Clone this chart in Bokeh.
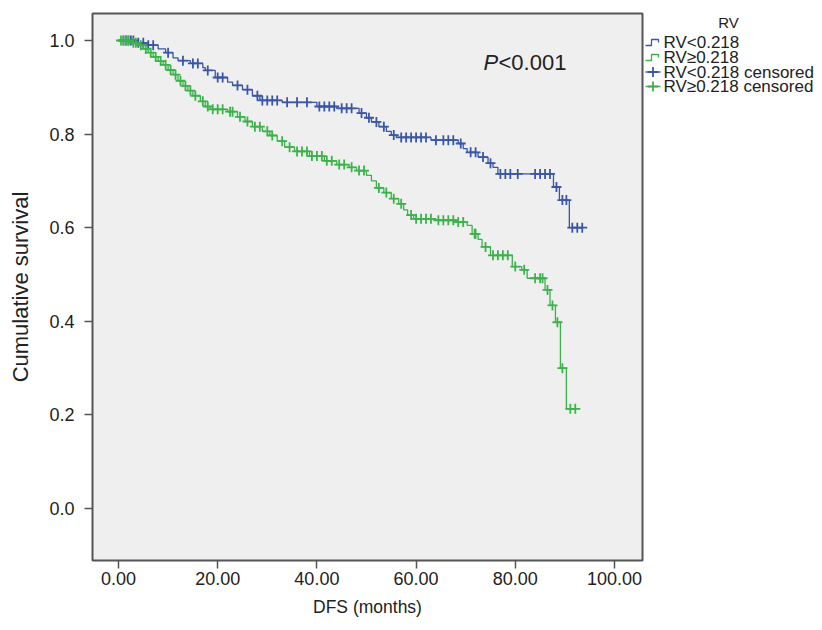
import numpy as np
from bokeh.plotting import figure
from bokeh.layouts import row
from bokeh.models import Range1d, Label, FixedTicker, CustomJSTickFormatter
from bokeh.core.properties import value
from bokeh.embed import file_html
from bokeh.resources import INLINE

# ---------------- data ----------------
group_names = ["RV<0.218", "RV\u22650.218"]
censor_names = ["RV<0.218 censored", "RV\u22650.218 censored"]
legend_title = "RV"
p_value_text = ["P", "<0.001"]

low_event_times = [3.5, 5.5, 8.0, 9.5, 11.0, 12.0, 14.5, 17.0, 17.5, 19.5, 22.0, 23.0,
                   25.0, 27.0, 28.5, 33.0, 40.0, 44.0, 48.5, 50.0, 51.0, 52.5, 54.0,
                   55.0, 56.0, 63.0, 68.5, 69.5, 70.3, 72.5, 74.5, 75.5, 76.5, 87.7,
                   88.9, 90.9]
low_survival = [0.995, 0.990, 0.982, 0.974, 0.963, 0.957, 0.951, 0.942, 0.936, 0.921,
                0.911, 0.904, 0.895, 0.882, 0.872, 0.868, 0.859, 0.855, 0.845, 0.835,
                0.826, 0.816, 0.806, 0.798, 0.793, 0.787, 0.780, 0.769, 0.761, 0.751,
                0.738, 0.729, 0.715, 0.687, 0.659, 0.600]
low_censor_times = [1.0, 1.5, 2.0, 2.5, 3.0, 4.0, 5.0, 6.0, 7.0, 10.0, 13.0, 15.0, 16.0,
                    18.0, 20.0, 21.0, 24.0, 26.0, 28.0, 29.0, 30.0, 31.0, 32.0, 34.0,
                    36.0, 38.0, 40.5, 41.5, 42.5, 43.5, 45.0, 46.0, 47.0, 49.0, 50.5,
                    52.0, 53.5, 55.5, 57.0, 58.0, 59.0, 60.0, 61.0, 62.0, 64.0, 65.5,
                    66.5, 67.5, 69.0, 71.0, 72.0, 73.5, 75.0, 77.0, 78.0, 79.0, 80.5,
                    84.0, 85.0, 86.0, 87.0, 88.3, 89.5, 90.3, 91.5, 92.5, 93.5]

high_event_times = [2.5, 4.0, 5.0, 6.0, 7.0, 8.0, 9.0, 10.0, 11.0, 12.0, 13.0, 14.0, 15.0,
                    16.5, 17.5, 18.5, 22.0, 24.0, 25.5, 27.0, 29.0, 30.5, 32.0, 33.5,
                    35.5, 38.5, 41.5, 44.0, 46.5, 48.0, 50.0, 51.0, 52.0, 53.5, 55.0,
                    56.5, 57.5, 58.3, 59.5, 64.0, 68.0, 70.3, 71.3, 72.5, 73.3, 75.0,
                    79.4, 81.3, 82.4, 86.0, 87.0, 88.1, 89.1, 90.3]
high_survival = [0.995, 0.990, 0.982, 0.974, 0.965, 0.956, 0.948, 0.937, 0.927, 0.914,
                 0.903, 0.893, 0.882, 0.870, 0.859, 0.853, 0.848, 0.837, 0.827, 0.816,
                 0.806, 0.797, 0.785, 0.772, 0.763, 0.753, 0.743, 0.735, 0.729, 0.722,
                 0.712, 0.700, 0.685, 0.675, 0.662, 0.651, 0.638, 0.627, 0.619, 0.616,
                 0.612, 0.605, 0.587, 0.575, 0.559, 0.541, 0.517, 0.510, 0.492, 0.467,
                 0.434, 0.398, 0.300, 0.213]
high_censor_times = [0.5, 1.0, 1.5, 2.0, 3.0, 3.5, 4.5, 5.5, 6.5, 7.5, 8.5, 9.5, 10.5,
                     11.5, 12.5, 13.5, 14.5, 15.5, 17.0, 18.0, 19.0, 20.0, 21.0, 22.5,
                     23.0, 24.5, 26.0, 27.5, 28.5, 30.0, 31.0, 33.0, 34.5, 36.0, 37.0,
                     38.0, 39.0, 40.0, 41.0, 42.0, 43.0, 44.5, 45.5, 47.0, 48.5, 49.5,
                     52.5, 54.0, 55.5, 57.0, 59.0, 60.0, 61.0, 62.0, 63.0, 64.5, 65.5,
                     66.5, 67.5, 68.5, 69.5, 71.8, 72.0, 74.0, 75.5, 76.5, 77.5, 78.5,
                     80.0, 81.8, 84.0, 85.0, 85.5, 86.5, 87.5, 88.5, 89.5, 91.1, 92.1]

x_ticks = [0, 20, 40, 60, 80, 100]
x_tick_labels = ["0.00", "20.00", "40.00", "60.00", "80.00", "100.00"]
y_ticks = [0.0, 0.2, 0.4, 0.6, 0.8, 1.0]
y_tick_labels = ["0.0", "0.2", "0.4", "0.6", "0.8", "1.0"]
x_title = "DFS (months)"
y_title = "Cumulative survival"

# ---------------- styling ----------------
BLUE = "#3a56a6"
GREEN = "#3cb34a"
TEXT = "#222222"
FRAME = "#555555"
FONT = "Liberation Sans"
H = 620
TOP, BOTTOM = 13, 60


def step_path(times, surv, cens):
    end = max(max(cens), times[-1])
    xs = np.concatenate([[0.0], times, [end]])
    ys = np.concatenate([[1.0], surv, [surv[-1]]])
    return xs, ys


def censor_levels(times, surv, cens):
    t = np.asarray(times, dtype=float)
    s = np.concatenate([[1.0], np.asarray(surv, dtype=float)])
    idx = np.searchsorted(t, np.asarray(cens, dtype=float), side="right")
    return s[idx]


p = figure(frame_width=550, frame_height=H - TOP - BOTTOM, output_backend="svg",
           toolbar_location=None,
           x_range=Range1d(-5.24, 105.65), y_range=Range1d(-0.111, 1.0577),
           min_border_left=92, min_border_right=2, min_border_top=TOP,
           min_border_bottom=BOTTOM)
p.background_fill_color = "#efefef"
p.border_fill_color = "white"
p.outline_line_color = FRAME
p.outline_line_width = 2
p.grid.visible = False

tick_code = ("const i = tick_values.findIndex(t => Math.abs(t - tick) < 1e-9);"
             "return i >= 0 ? tick_texts[i] : '';")
p.xaxis.ticker = FixedTicker(ticks=x_ticks)
p.xaxis.formatter = CustomJSTickFormatter(
    args=dict(tick_values=x_ticks, tick_texts=x_tick_labels), code=tick_code)
p.yaxis.ticker = FixedTicker(ticks=y_ticks)
p.yaxis.formatter = CustomJSTickFormatter(
    args=dict(tick_values=y_ticks, tick_texts=y_tick_labels), code=tick_code)
p.xaxis.axis_label = x_title
p.yaxis.axis_label = y_title

for ax in (p.xaxis[0], p.yaxis[0]):
    ax.axis_line_color = None
    ax.major_tick_out = 8
    ax.major_tick_in = 0
    ax.minor_tick_line_color = None
    ax.major_tick_line_color = FRAME
    ax.major_tick_line_width = 1.5
    ax.major_label_text_font = FONT
    ax.major_label_text_font_size = "18px"
    ax.major_label_text_color = TEXT
    ax.axis_label_text_font = FONT
    ax.axis_label_text_font_style = "normal"
    ax.axis_label_text_color = TEXT
p.xaxis.axis_label_text_font_size = "17.5px"
p.yaxis.axis_label_text_font_size = "22px"
p.yaxis.major_label_standoff = 10
p.yaxis.axis_label_standoff = 13
p.xaxis.major_label_standoff = 3
p.xaxis.axis_label_standoff = 9

for times, surv, cens, color in [
        (low_event_times, low_survival, low_censor_times, BLUE),
        (high_event_times, high_survival, high_censor_times, GREEN)]:
    xs, ys = step_path(times, surv, cens)
    p.step(xs, ys, mode="after", line_color=color, line_width=1.3)
    p.scatter(cens, censor_levels(times, surv, cens), marker="cross", size=10,
              line_color=color, line_width=1.8)

p.add_layout(Label(x=391, y=498, x_units="screen", y_units="screen", text=p_value_text[0],
                   text_font=FONT, text_font_size="22px", text_font_style="italic",
                   text_color=TEXT, text_align="left", text_baseline="middle"))
p.add_layout(Label(x=406, y=498, x_units="screen", y_units="screen", text=p_value_text[1],
                   text_font=FONT, text_font_size="22px", text_color=TEXT,
                   text_align="left", text_baseline="middle"))

# ---------------- legend panel (page pixel coordinates) ----------------
LEFT = 644
lg = figure(width=822 - LEFT, height=H, output_backend="svg", toolbar_location=None,
            x_range=Range1d(LEFT, 822), y_range=Range1d(H - BOTTOM, TOP),
            min_border_left=0, min_border_right=0, min_border_top=TOP,
            min_border_bottom=BOTTOM, outline_line_color=None)
lg.axis.visible = False
lg.grid.visible = False
lg.background_fill_color = "white"
lg.border_fill_color = "white"

item_y = [42, 57, 71.5, 86]
icon_x0, icon_x1, text_x = 645, 660, 663
colors = [BLUE, GREEN]

lg.text([728], [22], text=[legend_title], text_font=value(FONT), text_font_size="15px",
        text_color=TEXT, text_align="center", text_baseline="middle")
for i, (name, color) in enumerate(zip(group_names, colors)):
    y = item_y[i]
    lg.line([icon_x0, 651, 651, 658, 658],
            [y + 3, y + 3, y - 3, y - 3, y], line_color=color, line_width=1.3)
    lg.text([text_x], [y], text=[name], text_font=value(FONT), text_font_size="17px",
            text_color=TEXT, text_align="left", text_baseline="middle")
for i, (name, color) in enumerate(zip(censor_names, colors)):
    y = item_y[2 + i]
    lg.line([icon_x0, icon_x1], [y, y], line_color=color, line_width=1.3)
    lg.scatter([(icon_x0 + icon_x1) / 2], [y], marker="cross", size=10,
               line_color=color, line_width=1.8)
    lg.text([text_x], [y], text=[name], text_font=value(FONT), text_font_size="17px",
            text_color=TEXT, text_align="left", text_baseline="middle")

layout = row(p, lg)
open("out.html", "w").write(file_html(layout, INLINE))
